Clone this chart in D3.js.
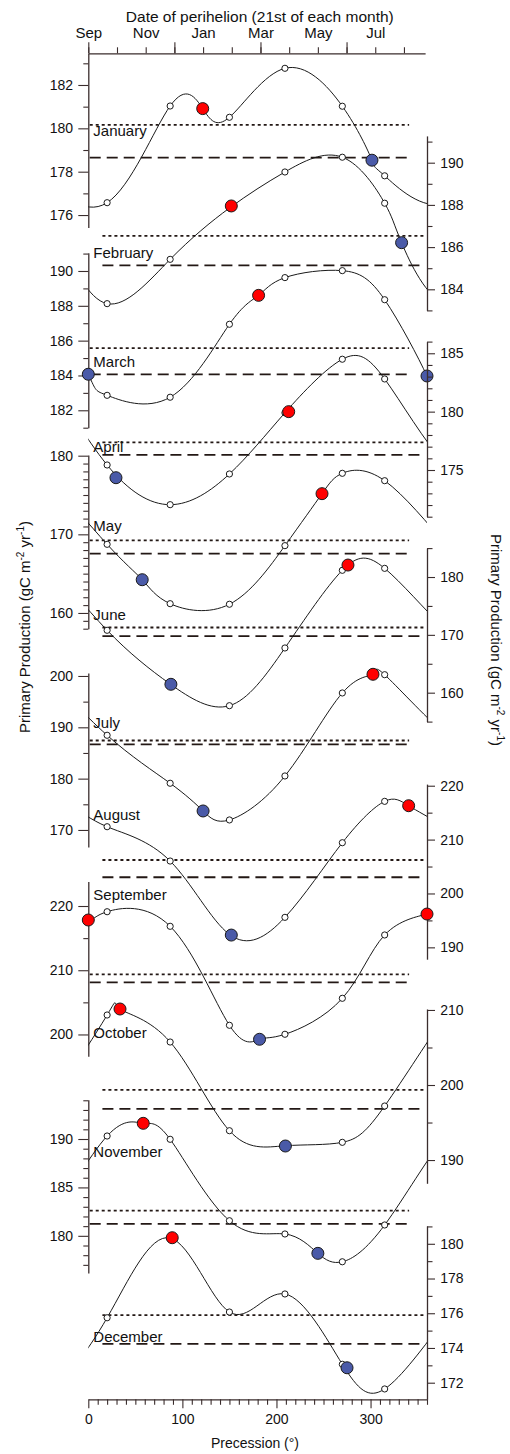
<!DOCTYPE html>
<html><head><meta charset="utf-8">
<script src="https://cdn.jsdelivr.net/npm/d3@7"></script>
<style>
body{margin:0;background:#fff}
svg{display:block}
text{font-family:"Liberation Sans",Arial,Helvetica,sans-serif;fill:#111}
</style>
</head><body>
<svg id="chart" width="510" height="1454"></svg>
<script>
// ---------------- DATA ----------------
const months = ["January","February","March","April","May","June","July","August","September","October","November","December"];
const precessionGrid = [20, 87, 150, 209, 270, 315];
const openValues = [
  [176.57,181.03,180.51,182.77,181.02,177.81],
  [183.32,185.42,187.85,189.56,190.26,188.08],
  [182.86,182.75,186.94,189.62,190.02,188.35],
  [175.43,172.03,174.66,179.90,184.49,182.80],
  [168.73,161.18,161.11,168.56,177.76,176.82],
  [170.79,161.50,157.75,167.73,181.16,181.50],
  [188.45,179.10,171.95,180.52,196.69,200.25],
  [212.39,206.02,192.40,195.57,209.42,217.10],
  [219.11,216.84,201.43,200.03,205.63,215.49],
  [209.33,205.73,193.91,191.90,192.36,197.20],
  [190.31,189.97,181.56,180.19,177.32,181.12],
  [175.74,180.33,176.07,177.11,173.06,171.64]
];
const redPoints = [
  [[121.6,180.91]],[[152,187.95]],[[181,188.60]],[[213,180.0]],
  [[248.4,175.17]],[[276,182.07]],[[302.6,200.33]],[[340.5,216.29]],
  [[0,217.82],[360,218.75]],[[33.7,210.13]],[[58.4,191.62]],[[89.2,180.35]]
];
const bluePoints = [
  [[301.5,178.53]],[[333,186.21]],[[0,184.07],[360,183.97]],[[29.4,174.34]],
  [[57.3,164.23]],[[87.8,161.45]],[[122,173.70]],[[152,192.28]],
  [[182,199.25]],[[209.5,191.87]],[[244,178.19]],[[275,172.86]]
];
const dottedValues = [180.16,186.53,185.57,177.36,169.22,171.27,187.43,206.21,209.34,199.36,182.61,175.89];
const dashedValues = [178.65,185.13,184.06,176.30,167.54,169.77,186.69,203.01,208.12,196.83,181.24,174.24];
const axisExtents = [[175.43,183.48],[183.0,191.27],[181.0,191.05],[171,186],[158,180.1],[155,185],[166.7,200.6],[187.8,220.3],[196.6,223.8],[186.9,210.13],[176.16,194.06],[171.05,181.03]];
const majorSteps = [2,2,2,5,10,10,10,10,10,10,5,2];
const minorSteps = [1,1,1,1,1,5,5,5,5,5,1,1];
const perihelionMonths = ["Sep","Oct","Nov","Dec","Jan","Feb","Mar","Apr","May","Jun","Jul","Aug"];
const perihelionPrecession = [0,30.5,61,91.5,122,152.5,183,213.5,244,274.5,305,335.5];
const precessionTicks = [0,100,200,300];
const precessionMinor = d3.range(0,361,10);

// ---------------- LAYOUT ----------------
const W = 510, H = 1454;
const panelPixelRanges = [[227.4,52.9],[310.4,135.9],[427.7,252.7],[516.7,341.6],[628.7,454.9],[721.6,548.1],[846.9,672.9],[959.2,784.1],[1056.3,881.6],[1183.3,1009],[1273,1099.7],[1399.2,1225.9]];
const labelBaselines = [135.5,258.3,366.7,451.7,531,620,727.7,820,900,1038.3,1157.3,1341.7];
const refSpan = {left:[1.5,341], right:[15,357.5]};
const axisColor = "#3a2d2d";
const lineColor = "#231815";
const redColor = "#ff0000", blueColor = "#4a5aa8";

const svg = d3.select("#chart");
svg.append("rect").attr("width",W).attr("height",H).attr("fill","#fff");
const x = d3.scaleLinear().domain([0,360]).range([88.3,427]);

svg.append("defs").append("clipPath").attr("id","plotClip")
  .append("rect").attr("x",x(0)).attr("y",0).attr("width",x(360)-x(0)).attr("height",H);

function styleAxis(g, fs){
  g.select(".domain").attr("stroke",axisColor).attr("stroke-width",1.3);
  g.selectAll(".tick line").attr("stroke",axisColor).attr("stroke-width",1.1);
  g.selectAll(".tick text").attr("font-size",fs).attr("fill","#111")
    .attr("font-family",'"Liberation Sans",Arial,Helvetica,sans-serif');
}
function ticksFor(lo,hi,step){
  return d3.range(Math.ceil(lo/step-1e-9)*step, hi+1e-9, step).map(v=>Math.round(v*1000)/1000);
}

const curveLine = d3.line().x(d=>d[0]).y(d=>d[1]).curve(d3.curveNatural);
const plotLayer = svg.append("g");

months.forEach((name,i)=>{
  const [lo,hi] = axisExtents[i];
  const y = d3.scaleLinear().domain([lo,hi]).range(panelPixelRanges[i]);
  const side = i%2===0 ? "left" : "right";
  const g = plotLayer.append("g").attr("class","panel");

  // y axis
  const xPos = side==="left" ? x(0) : x(360);
  const mk = () => side==="left" ? d3.axisLeft(y) : d3.axisRight(y);
  const majors = ticksFor(lo,hi,majorSteps[i]);
  const minors = ticksFor(lo,hi,minorSteps[i]).filter(v=>!majors.some(m=>Math.abs(m-v)<1e-6));
  const gMinor = g.append("g").attr("transform",`translate(${xPos},0)`)
    .call(mk().tickValues(minors).tickSize(side==="left"?5:5.5).tickFormat("").tickSizeOuter(0));
  gMinor.select(".domain").remove();
  gMinor.selectAll(".tick line").attr("stroke",axisColor).attr("stroke-width",1.1);
  const gMajor = g.append("g").attr("transform",`translate(${xPos},0)`)
    .call(mk().tickValues(majors).tickSize(side==="left"?10:8).tickPadding(5.3).tickSizeOuter(0).tickFormat(d3.format("d")));
  styleAxis(gMajor,14);

  // reference lines
  const span = refSpan[side];
  const hLine = d3.line();
  g.append("path").attr("d",hLine([[x(span[0]),y(dottedValues[i])],[x(span[1]),y(dottedValues[i])]]))
    .attr("stroke",lineColor).attr("stroke-width",1.8).attr("stroke-dasharray","3,3").attr("fill","none");
  g.append("path").attr("d",hLine([[x(span[0]),y(dashedValues[i])],[x(span[1]),y(dashedValues[i])]]))
    .attr("stroke",lineColor).attr("stroke-width",1.8).attr("stroke-dasharray","11,6").attr("fill","none");

  // curve knots: open points + markers away from grid points (periodic padding)
  const knots = precessionGrid.map((p,k)=>[p,openValues[i][k]]);
  [...redPoints[i],...bluePoints[i]].forEach(pt=>{
    if (d3.min(precessionGrid,p=>Math.abs(p-pt[0]))>=10) knots.push(pt);
  });
  knots.sort((a,b)=>a[0]-b[0]);
  const interior = knots.filter(k=>k[0]>0 && k[0]<360);
  const ends = knots.filter(k=>k[0]<=0 || k[0]>=360);
  const padL = interior.slice(-2).map(k=>[k[0]-360,k[1]]);
  const padR = interior.slice(0,2).map(k=>[k[0]+360,k[1]]);
  const all = [...padL,...ends.filter(k=>k[0]<=0),...interior,...ends.filter(k=>k[0]>=360),...padR];
  g.append("path").attr("clip-path","url(#plotClip)")
    .attr("d",curveLine(all.map(k=>[x(k[0]),y(k[1])])))
    .attr("fill","none").attr("stroke","#1a1a1a").attr("stroke-width",1);

  // open circles
  g.selectAll("circle.open").data(precessionGrid.map((p,k)=>[p,openValues[i][k]])).join("circle")
    .attr("class","open").attr("cx",d=>x(d[0])).attr("cy",d=>y(d[1])).attr("r",3.1)
    .attr("fill","#fff").attr("stroke","#1a1a1a").attr("stroke-width",1);
  // markers
  g.selectAll("circle.blue").data(bluePoints[i]).join("circle")
    .attr("class","blue").attr("cx",d=>x(d[0])).attr("cy",d=>y(d[1])).attr("r",6)
    .attr("fill",blueColor).attr("stroke","#1a1a1a").attr("stroke-width",1);
  g.selectAll("circle.red").data(redPoints[i]).join("circle")
    .attr("class","red").attr("cx",d=>x(d[0])).attr("cy",d=>y(d[1])).attr("r",6)
    .attr("fill",redColor).attr("stroke","#1a1a1a").attr("stroke-width",1);

  // month label
  g.append("text").attr("x",93.3).attr("y",labelBaselines[i]).attr("font-size",15).text(name);
});

// ---------------- TOP AXIS ----------------
const xTop = x.copy().domain([0,358]).range([x(0),x(358)]);
const topG = svg.append("g").attr("transform","translate(0,53.3)");
const tMinor = topG.append("g").call(d3.axisTop(xTop).tickValues(perihelionPrecession).tickSize(6).tickFormat("").tickSizeOuter(0));
styleAxis(tMinor,15);
const tMajor = topG.append("g").call(d3.axisTop(xTop).tickValues(perihelionPrecession.filter((d,k)=>k%3===0)).tickSize(11).tickFormat("").tickSizeOuter(0));
tMajor.select(".domain").remove();
styleAxis(tMajor,15);
const tLab = topG.append("g").call(d3.axisTop(xTop).tickValues(perihelionPrecession.filter((d,k)=>k%2===0)).tickSize(0).tickPadding(15.6)
  .tickFormat(d=>perihelionMonths[perihelionPrecession.indexOf(d)]).tickSizeOuter(0));
tLab.select(".domain").remove();
styleAxis(tLab,15);
svg.append("text").attr("x",259.8).attr("y",21.7).attr("text-anchor","middle").attr("font-size",15.5)
  .text("Date of perihelion (21st of each month)");

// ---------------- BOTTOM AXIS ----------------
const botG = svg.append("g").attr("transform","translate(0,1399.3)");
const bMinor = botG.append("g").call(d3.axisBottom(x).tickValues(precessionMinor.filter(v=>!precessionTicks.includes(v))).tickSize(5.5).tickFormat("").tickSizeOuter(0));
styleAxis(bMinor,14);
const bMajor = botG.append("g").call(d3.axisBottom(x).tickValues(precessionTicks).tickSize(9).tickPadding(6).tickSizeOuter(0));
bMajor.select(".domain").remove();
styleAxis(bMajor,14);
svg.append("text").attr("x",255).attr("y",1448.3).attr("text-anchor","middle").attr("font-size",14)
  .text("Precession (°)");

// ---------------- Y TITLES ----------------
function yTitle(xp,yp,rot){
  const t = svg.append("text").attr("transform",`translate(${xp},${yp}) rotate(${rot})`)
    .attr("text-anchor","middle").attr("font-size",15);
  t.append("tspan").text("Primary Production (gC m");
  t.append("tspan").attr("font-size",10).attr("dy",-6).text("-2");
  t.append("tspan").attr("dy",6).text(" yr");
  t.append("tspan").attr("font-size",10).attr("dy",-6).text("-1");
  t.append("tspan").attr("dy",6).text(")");
}
yTitle(29.5,627,-90);
yTitle(490.5,640,90);
</script>
</body></html>
